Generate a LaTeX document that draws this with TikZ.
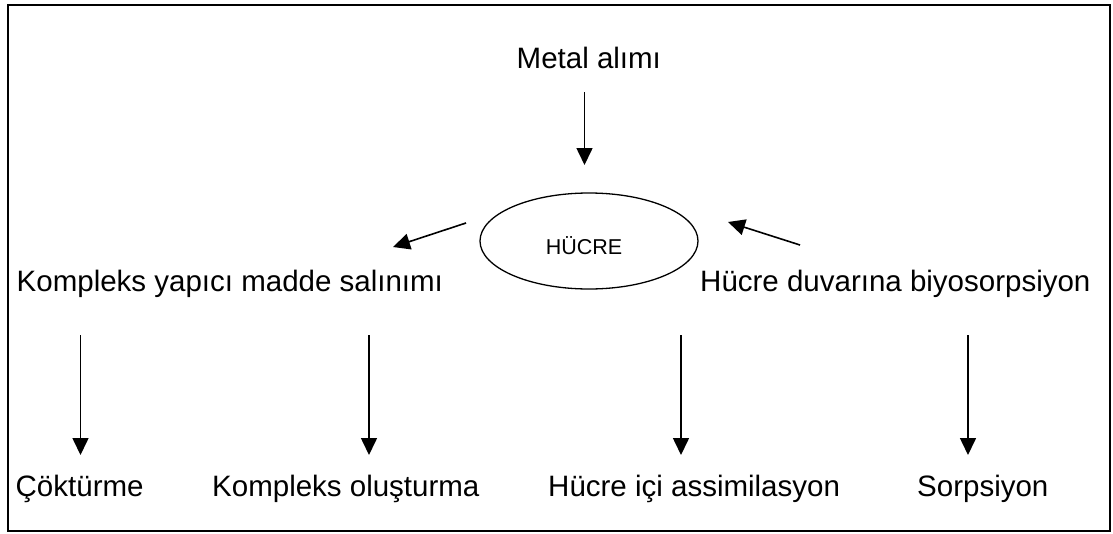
\documentclass[tikz,border=0pt]{standalone}
\usepackage{fontspec}
\setmainfont{Liberation Sans}
\usetikzlibrary{arrows.meta,shapes.geometric}
\begin{document}
\begin{tikzpicture}[x=1pt,y=-1pt,
  lbl/.style={inner sep=0pt,anchor=base west,font=\fontsize{29.5}{35}\selectfont},
  arr/.style={line width=1.6pt,-{Triangle[length=17pt,width=16pt]}},
  frame/.style={line width=2pt}]
\useasboundingbox (0,0) rectangle (1113,533);
\draw[frame] (8,5) rectangle (1110,531);
% texts
\node[lbl] (metal) at (516.5,68) {Metal alımı};
\node[draw,line width=1.3pt,ellipse,minimum width=218pt,minimum height=96pt,inner sep=0pt] (cell) at (589,241) {};
\node[inner sep=0pt,anchor=base,font=\fontsize{21.5}{25}\selectfont] (celltxt) at (584,254) {HÜCRE};
\node[lbl] (kyms) at (16.5,291) {Kompleks yapıcı madde salınımı};
\node[lbl] (hdb) at (700,291) {Hücre duvarına biyosorpsiyon};
\node[lbl] (cok) at (15.5,496) {Çöktürme};
\node[lbl] (kol) at (212,496) {Kompleks oluşturma};
\node[lbl] (hia) at (548,496) {Hücre içi assimilasyon};
\node[lbl] (sor) at (917,496) {Sorpsiyon};
% arrow end points
\coordinate (m1) at (584.5,92);
\coordinate (m2) at (584.5,165);
\coordinate (l1) at (466,223);
\coordinate (l2) at (393,247);
\coordinate (r1) at (800,245);
\coordinate (r2) at (728,222);
\coordinate (a1) at (80.5,335);  \coordinate (a2) at (80.5,455);
\coordinate (b1) at (369,335);   \coordinate (b2) at (369,455);
\coordinate (c1) at (681,335);   \coordinate (c2) at (681,455);
\coordinate (d1) at (968,335);   \coordinate (d2) at (968,455);
\draw[arr] (m1) -- (m2);
\draw[arr] (l1) -- (l2);
\draw[arr] (r1) -- (r2);
\draw[arr] (a1) -- (a2);
\draw[arr] (b1) -- (b2);
\draw[arr] (c1) -- (c2);
\draw[arr] (d1) -- (d2);
\end{tikzpicture}
\end{document}
